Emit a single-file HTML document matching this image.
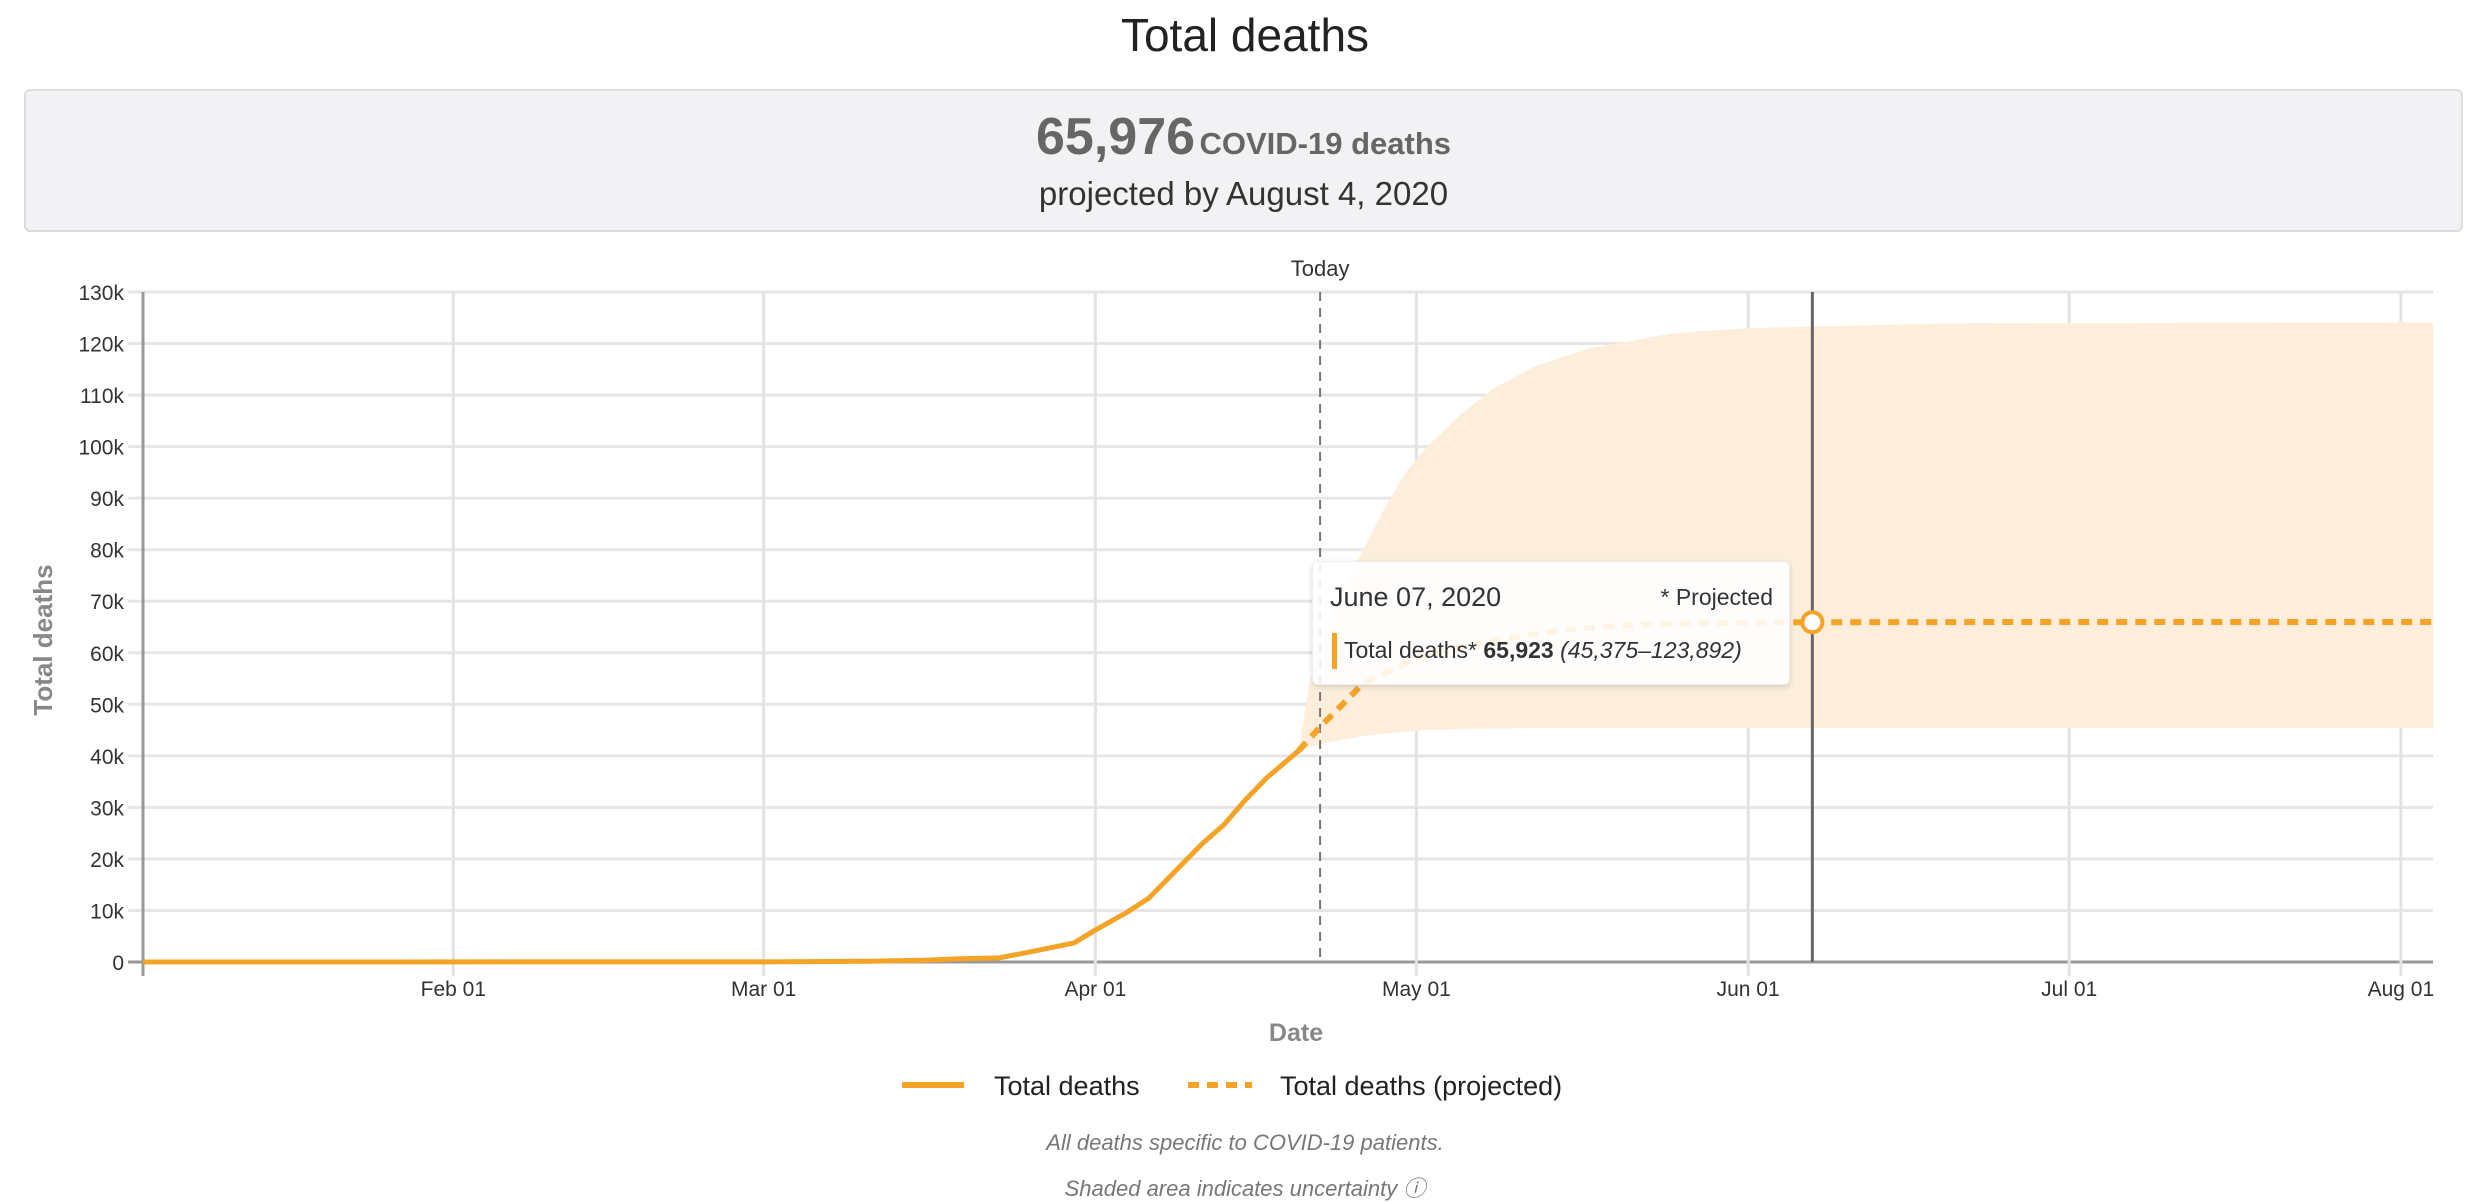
<!DOCTYPE html>
<html><head><meta charset="utf-8"><style>
html,body{margin:0;padding:0;width:2490px;height:1200px;background:#fff;overflow:hidden;font-family:"Liberation Sans",sans-serif}
</style></head><body>
<div style="position:absolute;left:0;top:8px;width:2490px;text-align:center;font-size:46px;color:#222">Total deaths</div>
<div style="position:absolute;left:24px;top:89px;width:2439px;height:143px;background:#f2f2f4;border:2px solid #dcdcde;border-radius:6px;box-sizing:border-box;text-align:center;color:#555">
 <div style="position:absolute;top:16px;width:100%;font-weight:bold"><span style="font-size:52px;color:#666">65,976</span> <span style="font-size:31px;color:#666">COVID-19 deaths</span></div>
 <div style="position:absolute;top:84px;width:100%;font-size:33px;color:#333">projected by August 4, 2020</div>
</div>
<svg id="chart" width="2490" height="1200" style="position:absolute;left:0;top:0" font-family="Liberation Sans, sans-serif"></svg>
<div style="position:absolute;left:1312px;top:561px;width:476px;height:122px;background:rgba(255,255,255,0.88);border:1px solid #eee;border-radius:6px;box-shadow:0 2px 6px rgba(0,0,0,0.15);color:#333">
 <div style="position:absolute;left:17px;top:20px;font-size:27px">June 07, 2020</div>
 <div style="position:absolute;right:16px;top:22px;font-size:23px">* Projected</div>
 <div style="position:absolute;left:19px;top:71px;width:5px;height:36px;background:#f5a327"></div>
 <div style="position:absolute;left:31px;top:75px;font-size:23px;white-space:nowrap">Total deaths* <b>65,923</b> <i>(45,375–123,892)</i></div>
</div>
<div style="position:absolute;left:0;width:2490px;top:1130px;text-align:center;font-size:22px;font-style:italic;color:#777">All deaths specific to COVID-19 patients.</div>
<div style="position:absolute;left:0;width:2490px;top:1171px;text-align:center;font-size:22px;font-style:italic;color:#777">Shaded area indicates uncertainty ⓘ</div>
<script>
const actualDays=[2,60,70,75,78,82,85,89,91,94,96,101,103,105,107,110];
const actualVals=[0,30,150,350,600,800,2000,3700,6200,9700,12400,23000,26600,31400,35700,41000];
const projDays=[110,112,116,121,126,130,135,141,150,158,180,216];
const projVals=[41000,45600,54000,59000,61500,63000,64500,65400,65800,65923,65976,65976];
const bandDays=[110,111,113,116,118,120,122,125,128,132,137,145,152,170,216];
const bandLow=[41000,41700,42700,43800,44300,44700,45000,45200,45300,45370,45375,45375,45375,45400,45400];
const bandHigh=[41000,54000,68000,80000,88000,95000,100000,106000,111000,115500,119000,122000,123000,123892,124100];
const yTicks=[0,10000,20000,30000,40000,50000,60000,70000,80000,90000,100000,110000,120000,130000];
const yTickLabels=["0","10k","20k","30k","40k","50k","60k","70k","80k","90k","100k","110k","120k","130k"];
const xTickDays=[31,60,91,121,152,182,213];
const xTickLabels=["Feb 01","Mar 01","Apr 01","May 01","Jun 01","Jul 01","Aug 01"];
const todayDay=112, selDay=158, selVal=65923;
const X0=143,X1=2433,Y0=962,Y1=292,D0=2,D1=216,V1=130000;
const x=d=>X0+(d-D0)*(X1-X0)/(D1-D0);
const y=v=>Y0-v*(Y0-Y1)/V1;
const svg=document.getElementById('chart');const NS='http://www.w3.org/2000/svg';
function mk(t,a,p){const e=document.createElementNS(NS,t);for(const k in a)e.setAttribute(k,a[k]);(p||svg).appendChild(e);return e;}
yTicks.forEach((v,i)=>{
 const g=mk('line',{x1:X0-15,x2:X1,y1:y(v),y2:y(v),stroke:i==0?'#999':'#e6e6e6','stroke-width':3});
 
 
 const t=mk('text',{x:124,y:y(v)+8,'text-anchor':'end','font-size':21,fill:'#333'});t.textContent=yTickLabels[i];
 
 
});
xTickDays.forEach((d,i)=>{
 const g=mk('line',{x1:x(d),x2:x(d),y1:Y1,y2:Y0+14,stroke:'#e3e3e3','stroke-width':3});
 
 
 const t=mk('text',{x:x(d),y:996,'text-anchor':'middle','font-size':21,fill:'#333'});t.textContent=xTickLabels[i];
 
 
});
const ax=mk('line',{x1:X0,x2:X0,y1:Y1,y2:Y0+14,stroke:'#999','stroke-width':3});


let bp='';bandDays.forEach((d,i)=>{bp+=(i?'L':'M')+x(d)+','+y(bandHigh[i]);});
for(let i=bandDays.length-1;i>=0;i--)bp+='L'+x(bandDays[i])+','+y(bandLow[i]);
const band=mk('path',{d:bp+'Z',fill:'#fdeedc'});


const td=mk('line',{x1:x(todayDay),x2:x(todayDay),y1:Y1,y2:Y0,stroke:'#777','stroke-width':2,'stroke-dasharray':'9,7'});


const tt=mk('text',{x:x(todayDay),y:276,'text-anchor':'middle','font-size':22,fill:'#333'});tt.textContent='Today';


const sl=mk('line',{x1:x(selDay),x2:x(selDay),y1:Y1,y2:Y0,stroke:'#666','stroke-width':3});


const ap=mk('path',{d:actualDays.map((d,i)=>(i?'L':'M')+x(d)+','+y(actualVals[i])).join(''),fill:'none',stroke:'#f5a327','stroke-width':5,'stroke-linejoin':'round'});


const pp=mk('path',{d:projDays.map((d,i)=>(i?'L':'M')+x(d)+','+y(projVals[i])).join(''),fill:'none',stroke:'#f5a327','stroke-width':6,'stroke-dasharray':'11,8'});


const c=mk('circle',{cx:x(selDay),cy:y(selVal),r:10,fill:'#fff',stroke:'#f5a327','stroke-width':4});


const yt=mk('text',{transform:'translate(52,640) rotate(-90)','text-anchor':'middle','font-size':26,'font-weight':'bold',fill:'#888'});yt.textContent='Total deaths';


const xt=mk('text',{x:1296,y:1041,'text-anchor':'middle','font-size':25,'font-weight':'bold',fill:'#888'});xt.textContent='Date';


const l1=mk('line',{x1:902,x2:964,y1:1085,y2:1085,stroke:'#f5a327','stroke-width':6});


const lt1=mk('text',{x:994,y:1095,'font-size':27,fill:'#222'});lt1.textContent='Total deaths';


const l2=mk('line',{x1:1188,x2:1252,y1:1085,y2:1085,stroke:'#f5a327','stroke-width':6,'stroke-dasharray':'11,8'});


const lt2=mk('text',{x:1280,y:1095,'font-size':27,fill:'#222'});lt2.textContent='Total deaths (projected)';


</script>
</body></html>
